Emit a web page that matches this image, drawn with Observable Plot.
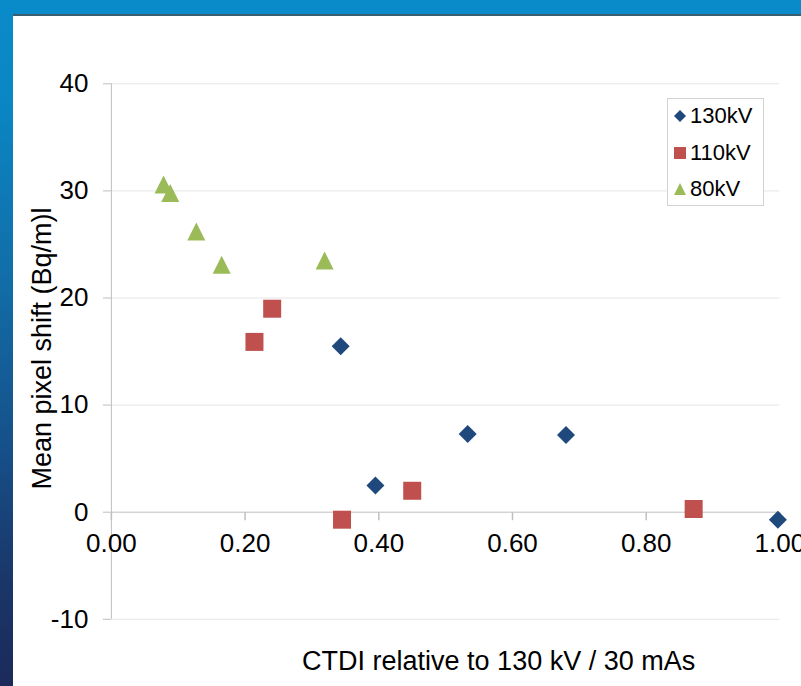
<!DOCTYPE html>
<html><head><meta charset="utf-8">
<script src="https://cdn.jsdelivr.net/npm/d3@7"></script>
<script src="https://cdn.jsdelivr.net/npm/@observablehq/plot@0.6"></script>
<style>
html,body{margin:0;padding:0;overflow:hidden;background:#fff;}
#wrap{position:relative;width:801px;height:686px;background:linear-gradient(to bottom,#0a8bc9 0%,#0a86c4 15%,#126ca6 42%,#16508a 65%,#1a3668 85%,#1b2a5b 100%);font-family:"Liberation Sans",Arial,sans-serif;}
#panel{position:absolute;left:13px;top:14px;right:0;bottom:0;background:#fff;border-top:2px solid #3b5d70;}
#chart{position:absolute;left:0;top:0;}
#legend{position:absolute;left:667px;top:98px;width:95px;height:106px;border:1px solid #d2d2d2;background:#fff;}
.item{position:absolute;left:6px;height:30px;display:flex;align-items:center;font-size:22px;color:#000;white-space:nowrap;}
.item svg{margin-right:4px;}
</style></head><body>
<div id="wrap"><div id="panel"></div><div id="chart"></div><div id="legend"></div></div>
<script>
// ---- data ----
const series = ["130kV", "110kV", "80kV"];
const colors = ["#1f497d", "#c0504d", "#9bbb59"];
const x130 = [0.343, 0.395, 0.533, 0.680, 0.997];
const y130 = [15.5, 2.5, 7.3, 7.2, -0.7];
const x110 = [0.214, 0.2405, 0.345, 0.450, 0.871];
const y110 = [15.9, 19.0, -0.7, 2.0, 0.3];
const x80 = [0.078, 0.088, 0.127, 0.165, 0.319];
const y80 = [30.6, 29.8, 26.2, 23.1, 23.5];
const xTicks = [0, 0.2, 0.4, 0.6, 0.8, 1.0];
const yTicks = [-10, 0, 10, 20, 30, 40];
const gridY = [-10, 10, 20, 30, 40];
const xLabel = "CTDI relative to 130 kV / 30 mAs";
const yLabel = "Mean pixel shift (Bq/m)l";

// ---- symbols (Excel-like markers) ----
const half = s => Math.sqrt(s / Math.PI);
const diamond = {draw(c, s) {const h = half(s); c.moveTo(0, -h); c.lineTo(h, 0); c.lineTo(0, h); c.lineTo(-h, 0); c.closePath();}};
const square = {draw(c, s) {const h = half(s); c.moveTo(-h, -h); c.lineTo(h, -h); c.lineTo(h, h); c.lineTo(-h, h); c.closePath();}};
const triangle = {draw(c, s) {const h = half(s); c.moveTo(0, -h); c.lineTo(h, h); c.lineTo(-h, h); c.closePath();}};
const tickDown = {draw(c, s) {c.moveTo(0, 0); c.lineTo(0, 8);}};
const symbols = [diamond, square, triangle];

const pts = (xs, ys) => xs.map((x, i) => ({x, y: ys[i]}));
const data = [pts(x130, y130), pts(x110, y110), pts(x80, y80)];

const font = "Liberation Sans, Arial, sans-serif";
const chart = Plot.plot({
  width: 801, height: 686,
  marginLeft: 110.9, marginRight: 21.6, marginTop: 83.3, marginBottom: 67.2,
  x: {domain: [0, 1], axis: null},
  y: {domain: [-10, 40], axis: null},
  style: {background: "transparent", overflow: "visible", fontFamily: font, color: "#000"},
  marks: [
    Plot.ruleY(gridY, {stroke: "#e6e6e6"}),
    Plot.ruleY([0], {stroke: "#bfbfbf"}),
    Plot.ruleX([0], {stroke: "#bfbfbf"}),
    Plot.axisY({ticks: yTicks, tickSize: 8, tickPadding: 15, stroke: "#bfbfbf", fill: "#000", fontSize: 26, label: null, tickFormat: d => String(d)}),
    Plot.dot(xTicks, {x: d => d, y: () => 0, symbol: tickDown, stroke: "#bfbfbf", fill: "none", r: 4}),
    Plot.text(xTicks, {x: d => d, y: () => 0, text: d => d.toFixed(2), fontSize: 26, lineAnchor: "top", dy: 21, fill: "#000"}),
    ...data.map((d, i) => Plot.dot(d, {x: "x", y: "y", symbol: symbols[i], fill: colors[i], stroke: "none", r: 9})),
    Plot.text([yLabel], {frameAnchor: "left", rotate: -90, dx: -69, dy: -3, fontSize: 27, fill: "#000", textAnchor: "middle", lineAnchor: "middle"}),
    Plot.text([xLabel], {frameAnchor: "bottom", dx: 53, dy: 51, fontSize: 27, fill: "#000", textAnchor: "middle", lineAnchor: "bottom"})
  ]
});
document.getElementById("chart").appendChild(chart);

// ---- legend ----
const legend = document.getElementById("legend");
const markerPath = [
  "M6,0L12,6L6,12L0,6Z",
  "M0,0L12,0L12,12L0,12Z",
  "M6,0L12,12L0,12Z"
];
const rowCenters = [17, 54, 90];
series.forEach((name, i) => {
  const item = document.createElement("div");
  item.className = "item";
  item.style.top = (rowCenters[i] - 15) + "px";
  item.innerHTML = `<svg width="12" height="12" viewBox="0 0 12 12"><path d="${markerPath[i]}" fill="${colors[i]}"/></svg><span>${name}</span>`;
  legend.appendChild(item);
});
</script>
</body></html>
